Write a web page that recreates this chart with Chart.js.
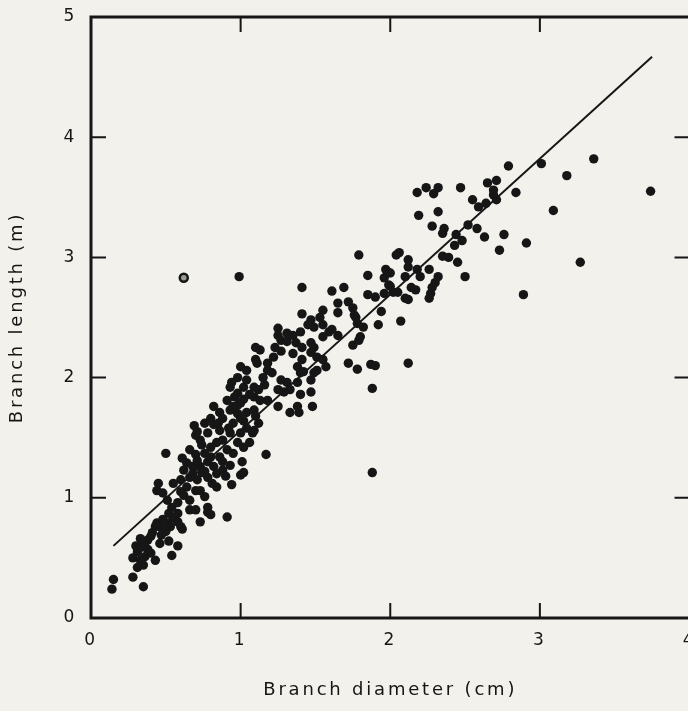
<!DOCTYPE html>
<html>
<head>
<meta charset="utf-8">
<script src="https://cdn.jsdelivr.net/npm/chart.js@4/dist/chart.umd.min.js"></script>
<style>
  html, body { margin:0; padding:0; background:#f2f1ec; overflow:hidden; width:688px; height:711px; }
  #wrap { position:absolute; left:0; top:0; width:696px; height:711px; }
</style>
</head>
<body>
<div id="wrap"><canvas id="c"></canvas></div>
<script>
// ---- data ----
const diameterCm = [
  0.15,0.14,0.28,0.35,0.43,0.41,0.38,0.34,0.31,0.28,
  0.33,0.36,0.40,0.43,0.35,0.31,0.46,0.50,0.53,0.58,
  0.54,0.51,0.54,0.52,0.55,0.58,0.60,0.45,0.44,0.48,
  0.50,0.38,0.44,0.47,0.51,0.58,0.61,0.36,0.40,0.46,
  0.30,0.33,0.48,0.52,0.66,0.70,0.71,0.73,0.74,0.68,
  0.64,0.62,0.66,0.71,0.78,0.81,0.84,0.73,0.76,0.70,
  0.64,0.60,0.55,0.66,0.70,0.78,0.80,0.73,0.78,0.91,
  0.94,1.00,1.02,1.01,0.93,0.88,0.86,0.91,0.95,0.98,
  1.02,1.06,1.08,1.04,1.00,0.93,0.88,0.84,0.80,0.76,
  0.86,0.82,0.78,0.71,0.70,0.73,1.17,0.61,0.78,0.82,
  0.76,0.84,0.80,0.74,0.88,0.90,0.68,0.62,0.58,0.66,0.60,
  0.82,0.86,0.93,0.98,1.04,1.09,1.12,1.09,1.25,1.33,
  1.39,1.48,1.09,1.13,1.18,1.00,0.91,0.95,1.00,1.04,
  0.98,0.93,0.98,1.02,1.09,1.15,1.18,1.21,1.27,1.31,
  1.25,1.29,1.33,1.38,1.40,1.47,1.38,1.13,1.10,1.11,
  0.69,0.88,1.02,0.92,0.85,0.95,1.00,1.10,0.98,1.02,
  1.06,0.96,0.94,1.04,1.12,1.16,0.80,0.76,
  1.25,1.25,1.31,1.35,1.40,1.27,1.23,1.22,1.31,1.37,
  1.41,1.47,1.49,1.51,1.55,1.57,1.47,1.41,1.38,1.40,
  1.49,1.47,1.51,1.53,1.49,1.47,1.55,1.59,1.65,1.55,
  1.45,1.10,1.18,1.42,1.27,1.35,
  1.79,2.04,2.06,2.12,1.85,1.98,1.96,2.10,1.41,1.61,
  1.69,1.85,1.90,1.99,2.05,2.10,1.65,1.65,1.72,1.75,
  1.55,1.41,1.94,1.77,1.78,1.82,1.92,2.07,1.61,1.75,
  1.79,1.80,1.72,1.78,1.87,1.90,2.12,1.88,1.88,
  2.18,2.24,2.32,2.29,2.19,2.32,2.28,2.36,2.35,2.52,
  2.58,2.63,2.76,2.73,2.44,2.48,2.43,2.12,2.35,2.39,
  2.45,2.26,2.18,2.20,1.97,2.00,2.32,2.30,2.28,2.27,
  2.26,2.50,2.00,2.02,2.14,2.17,2.12,1.96,1.76,2.47,
  2.65,2.71,2.69,2.69,2.71,2.64,2.59,2.55,2.79,3.01,
  3.18,3.36,3.74,2.84,3.09,2.91,3.27,2.89,0.99
];
const lengthM = [
  0.32,0.24,0.34,0.26,0.76,0.71,0.65,0.59,0.55,0.50,
  0.48,0.51,0.54,0.48,0.44,0.42,0.76,0.72,0.76,0.60,
  0.52,0.98,0.92,0.87,0.83,0.87,0.76,1.12,1.06,1.04,
  1.37,0.57,0.79,0.69,0.79,0.80,0.74,0.62,0.68,0.62,
  0.60,0.66,0.82,0.64,1.40,1.36,1.31,1.26,1.21,1.26,
  1.29,1.23,1.17,1.15,1.17,1.12,1.09,1.06,1.01,1.06,
  1.09,1.15,1.12,0.90,0.90,0.92,0.86,0.80,0.88,0.84,
  1.11,1.19,1.21,1.30,1.27,1.23,1.34,1.40,1.37,1.46,
  1.42,1.46,1.54,1.58,1.54,1.54,1.48,1.46,1.42,1.37,
  1.56,1.61,1.54,1.55,1.52,1.48,1.36,1.33,1.30,1.26,
  1.22,1.20,1.34,1.44,1.30,1.18,1.20,1.02,0.96,0.98,1.05,
  1.76,1.71,1.73,1.77,1.71,1.73,1.62,1.56,1.76,1.71,
  1.71,1.76,1.84,1.81,1.81,1.79,1.81,1.76,2.09,2.06,
  2.00,1.92,1.87,1.92,1.92,2.00,2.06,2.04,1.98,1.96,
  1.90,1.88,1.90,1.96,1.86,1.88,1.76,2.23,2.15,2.12,
  1.60,1.66,1.64,1.58,1.62,1.62,1.66,1.68,1.70,1.82,
  1.86,1.84,1.96,1.98,1.90,1.94,1.66,1.62,
  2.41,2.35,2.37,2.35,2.38,2.31,2.25,2.17,2.30,2.29,
  2.25,2.29,2.25,2.17,2.15,2.09,2.21,2.15,2.09,2.04,
  2.04,1.98,2.06,2.50,2.42,2.48,2.44,2.38,2.35,2.34,
  2.44,2.25,2.12,2.05,2.22,2.20,
  3.02,3.02,3.04,2.98,2.85,2.88,2.83,2.84,2.75,2.72,
  2.75,2.69,2.67,2.77,2.71,2.66,2.62,2.54,2.63,2.58,
  2.56,2.53,2.55,2.50,2.45,2.42,2.44,2.47,2.40,2.27,
  2.31,2.34,2.12,2.07,2.11,2.10,2.12,1.91,1.21,
  3.54,3.58,3.58,3.53,3.35,3.38,3.26,3.24,3.20,3.27,
  3.24,3.17,3.19,3.06,3.19,3.14,3.10,2.92,3.01,3.00,
  2.96,2.90,2.90,2.84,2.90,2.87,2.84,2.79,2.75,2.70,
  2.66,2.84,2.76,2.71,2.75,2.73,2.65,2.70,2.52,3.58,
  3.62,3.64,3.56,3.52,3.48,3.45,3.42,3.48,3.76,3.78,
  3.68,3.82,3.55,3.54,3.39,3.12,2.96,2.69,2.84
];
const ringDiameter = [0.62];
const ringLength = [2.83];
const fitDiameter = [0.15, 3.75];
const fitLength = [0.60, 4.67];
const xTickValues = [0, 1, 2, 3, 4];
const yTickValues = [0, 1, 2, 3, 4, 5];
const xTitle = 'Branch diameter (cm)';
const yTitle = 'Branch length (m)';

// ---- build library data ----
const n = Math.min(diameterCm.length, lengthM.length);
const pts = [];
for (let i = 0; i < n; i++) pts.push({x: diameterCm[i], y: lengthM[i]});
const ring = ringDiameter.map((d, i) => ({x: d, y: ringLength[i]}));
const fit = fitDiameter.map((d, i) => ({x: d, y: fitLength[i]}));

const INK = '#161616';
const FONT = 'DejaVu Sans';

const framePlugin = {
  id: 'frame',
  beforeDraw(chart) {
    const ctx = chart.ctx;
    ctx.fillStyle = '#f2f1ec';
    ctx.fillRect(0, 0, chart.width, chart.height);
    try { ctx.letterSpacing = '2.8px'; } catch (e) {}
  },
  afterDraw(chart) {
    const {ctx, chartArea: a, scales: {x, y}} = chart;
    ctx.save();
    ctx.strokeStyle = INK;
    ctx.lineWidth = 2;
    const L = 15;
    ctx.beginPath();
    xTickValues.forEach(v => {
      const px = x.getPixelForValue(v);
      ctx.moveTo(px, a.bottom); ctx.lineTo(px, a.bottom - L);
      ctx.moveTo(px, a.top); ctx.lineTo(px, a.top + L);
    });
    yTickValues.forEach(v => {
      const py = y.getPixelForValue(v);
      ctx.moveTo(a.left, py); ctx.lineTo(a.left + L, py);
      ctx.moveTo(a.right, py); ctx.lineTo(a.right - L, py);
    });
    ctx.stroke();
    ctx.lineWidth = 3;
    ctx.strokeRect(a.left, a.top, a.right - a.left, a.bottom - a.top);
    ctx.restore();
  }
};

new Chart(document.getElementById('c'), {
  type: 'scatter',
  data: {
    datasets: [
      { type: 'line', data: fit, borderColor: INK, borderWidth: 2, pointRadius: 0, fill: false, order: 0 },
      { data: pts, pointRadius: 4.7, pointHoverRadius: 4.7, backgroundColor: INK, borderWidth: 0, order: 1 },
      { data: ring, pointRadius: 4, backgroundColor: '#9a9a96', borderColor: INK, borderWidth: 2.5, order: 1 }
    ]
  },
  options: {
    responsive: true,
    maintainAspectRatio: false,
    animation: false,
    devicePixelRatio: 1,
    layout: { padding: { top: 17, right: 6, left: 0, bottom: 0 } },
    plugins: { legend: { display: false }, tooltip: { enabled: false } },
    scales: {
      x: {
        type: 'linear', min: 0, max: 4, position: 'bottom',
        afterBuildTicks(s) { s.ticks = xTickValues.map(v => ({value: v})); },
        ticks: { padding: 12, color: INK, font: { family: FONT, size: 17 }, maxRotation: 0, autoSkip: false },
        grid: { display: false, drawTicks: false },
        border: { display: false },
        title: { display: true, text: xTitle, color: INK, font: { family: FONT, size: 18 }, padding: { top: 0, bottom: 10 } },
        afterFit(s) { s.height = 93; s.paddingLeft = 0; s.paddingRight = 0; }
      },
      y: {
        type: 'linear', min: 0, max: 5, position: 'left',
        afterBuildTicks(s) { s.ticks = yTickValues.map(v => ({value: v})); },
        ticks: { padding: 14, color: INK, font: { family: FONT, size: 17 } },
        grid: { display: false, drawTicks: false },
        border: { display: false },
        title: { display: true, text: yTitle, color: INK, font: { family: FONT, size: 18 }, padding: { top: 7, bottom: 0 } },
        afterFit(s) { s.width = 91; s.paddingTop = 0; s.paddingBottom = 0; }
      }
    }
  },
  plugins: [framePlugin]
});
</script>
</body>
</html>
